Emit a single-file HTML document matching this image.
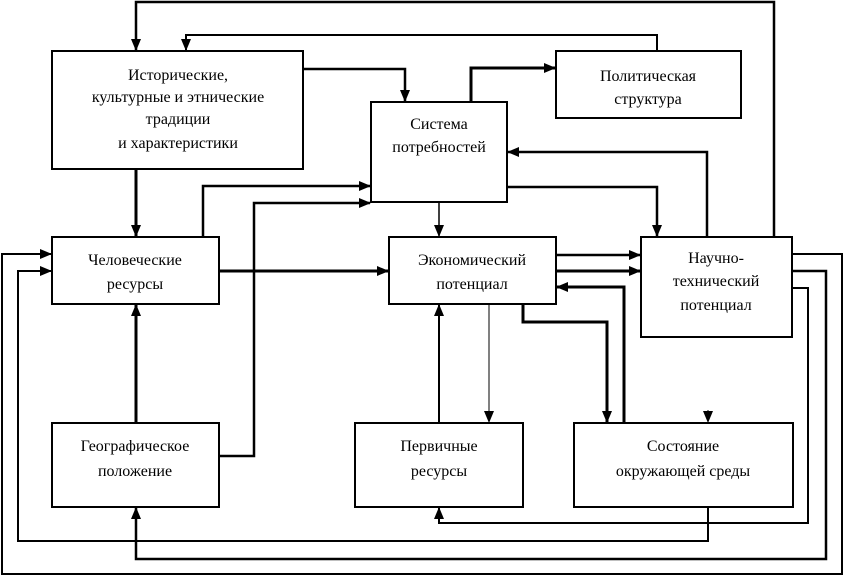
<!DOCTYPE html>
<html><head><meta charset="utf-8"><style>
html,body{margin:0;padding:0;background:#fff}
svg{display:block}
text{font-family:"Liberation Serif",serif;font-size:16px;fill:#000}
</style></head><body>
<svg width="843" height="576" viewBox="0 0 843 576" xmlns="http://www.w3.org/2000/svg">
<defs>
<marker id="a" markerWidth="12" markerHeight="12" refX="11" refY="6" orient="auto" markerUnits="userSpaceOnUse"><path d="M0,1 L12,6 L0,11 z" fill="#000"/></marker>
</defs>
<g fill="none" stroke="#000" stroke-width="2">
<rect x="52" y="51" width="251" height="118"/>
<rect x="371" y="102" width="136" height="100"/>
<rect x="556" y="51" width="185" height="67"/>
<rect x="52" y="237" width="167" height="67"/>
<rect x="389" y="237" width="167" height="67"/>
<rect x="641" y="237" width="151" height="100"/>
<rect x="52" y="423" width="167" height="84"/>
<rect x="355" y="423" width="168" height="84"/>
<rect x="574" y="423" width="219" height="84"/>
</g>
<g fill="none" stroke="#000" stroke-width="2" stroke-linejoin="miter">
<polyline points="774,237 774,2 136,2 136,50" marker-end="url(#a)" stroke-width="2.5"/>
<polyline points="657,51 657,35 186,35 186,50" marker-end="url(#a)"/>
<polyline points="303,69 405,69 405,101" marker-end="url(#a)" stroke-width="2.5"/>
<polyline points="471,102 471,68 555,68" marker-end="url(#a)" stroke-width="3"/>
<polyline points="136,169 136,236" marker-end="url(#a)" stroke-width="3"/>
<polyline points="203,237 203,186 370,186" marker-end="url(#a)" stroke-width="2.5"/>
<polyline points="219,456 254,456 254,203 370,203" marker-end="url(#a)" stroke-width="2.5"/>
<polyline points="707,237 707,152 508,152" marker-end="url(#a)" stroke-width="2.5"/>
<polyline points="507,187 657,187 657,236" marker-end="url(#a)" stroke-width="2.5"/>
<polyline points="439,202 439,236" marker-end="url(#a)" stroke-width="1.5"/>
<polyline points="219,271 388,271" marker-end="url(#a)" stroke-width="3"/>
<polyline points="556,255 640,255" marker-end="url(#a)" stroke-width="2.5"/>
<polyline points="556,271 640,271" marker-end="url(#a)" stroke-width="3"/>
<polyline points="624,423 624,287 557,287" marker-end="url(#a)" stroke-width="3"/>
<polyline points="523,304 523,322 607,322 607,422" marker-end="url(#a)" stroke-width="3"/>
<polyline points="489,304 489,422" marker-end="url(#a)" stroke-width="1"/>
<polyline points="439,423 439,305" marker-end="url(#a)" stroke-width="2"/>
<polyline points="136,423 136,305" marker-end="url(#a)" stroke-width="3"/>
<polyline points="708,410 708,422" marker-end="url(#a)" stroke-width="1"/>
<polyline points="792,254 842,254 842,574 2,574 2,254 51,254" marker-end="url(#a)"/>
<polyline points="792,271 826,271 826,559 136,559 136,508" marker-end="url(#a)" stroke-width="2.5"/>
<polyline points="792,288 808,288 808,523 439,523 439,508" marker-end="url(#a)"/>
<polyline points="708,507 708,541 18,541 18,271 51,271" marker-end="url(#a)"/>
</g>
<g text-anchor="middle">
<text x="178" y="80">Исторические,</text>
<text x="178" y="102">культурные и этнические</text>
<text x="178" y="124">традиции</text>
<text x="178" y="148">и характеристики</text>
<text x="439" y="129">Система</text>
<text x="439" y="152">потребностей</text>
<text x="648" y="81">Политическая</text>
<text x="648" y="104">структура</text>
<text x="135" y="265">Человеческие</text>
<text x="135" y="289">ресурсы</text>
<text x="472" y="265">Экономический</text>
<text x="472" y="289">потенциал</text>
<text x="716" y="263">Научно-</text>
<text x="716" y="286">технический</text>
<text x="716" y="310">потенциал</text>
<text x="135" y="451">Географическое</text>
<text x="135" y="476">положение</text>
<text x="439" y="451">Первичные</text>
<text x="439" y="476">ресурсы</text>
<text x="683" y="451">Состояние</text>
<text x="683" y="476">окружающей среды</text>
</g>
</svg>
</body></html>
